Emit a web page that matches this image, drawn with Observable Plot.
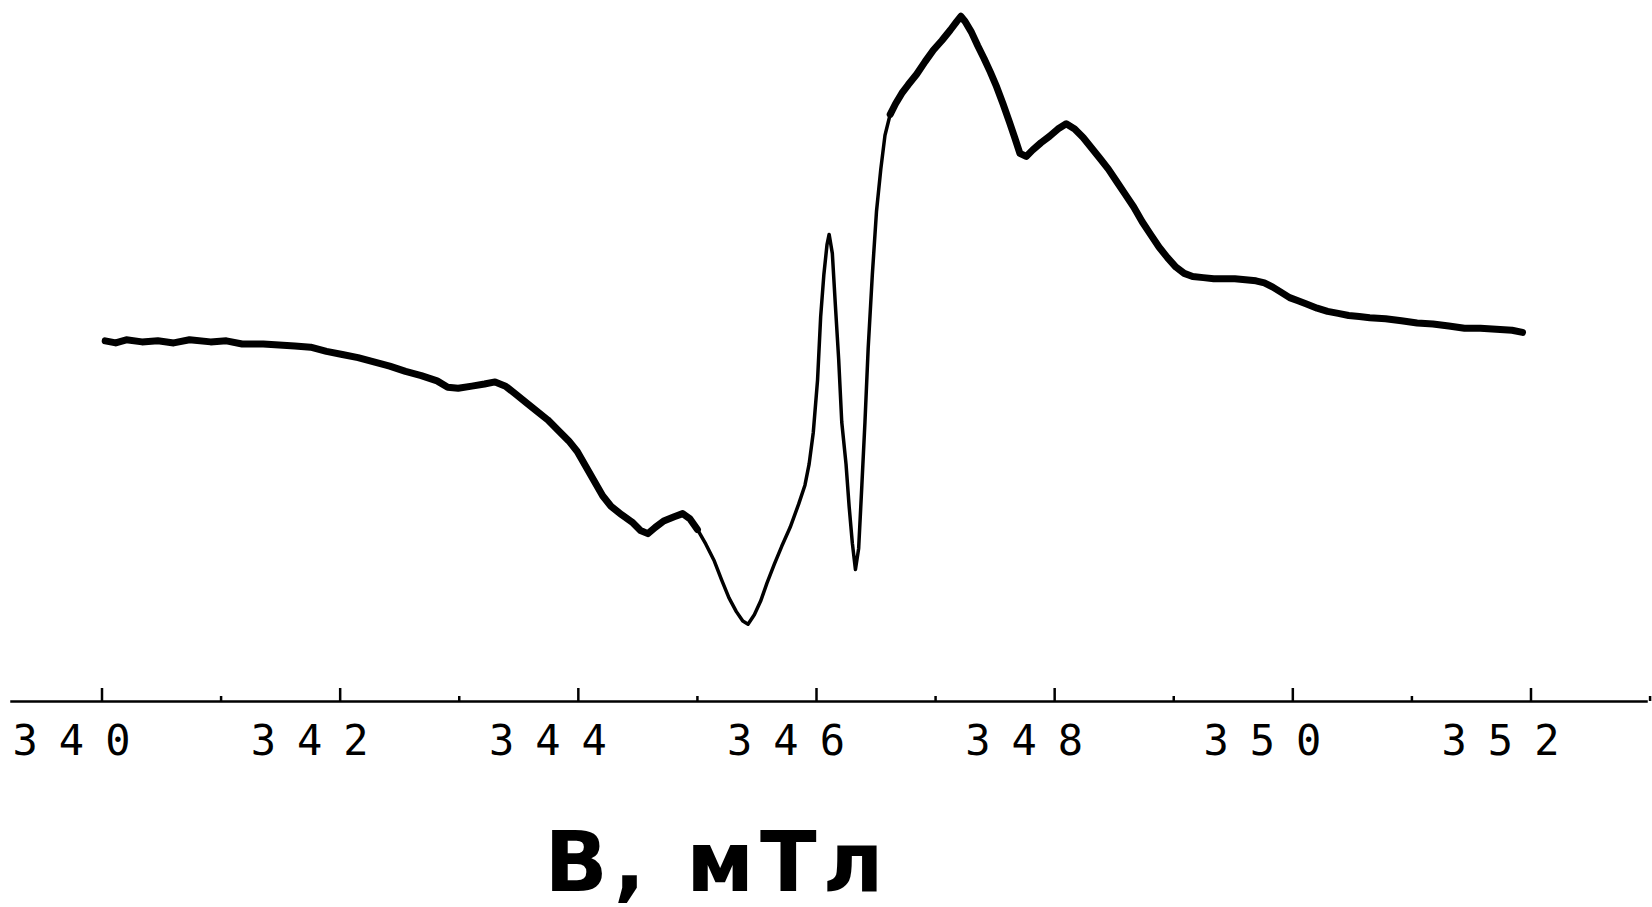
<!DOCTYPE html>
<html>
<head>
<meta charset="utf-8">
<script src="https://cdn.jsdelivr.net/npm/d3@7"></script>
<script src="https://cdn.jsdelivr.net/npm/@observablehq/plot@0.6"></script>
<style>
  html, body { margin: 0; padding: 0; background: #fff; }
  #chart svg { display: block; }
</style>
</head>
<body>
<div id="chart"></div>
<script>
// Magnetic field B, mT
const fieldB = [
  340.027, 340.115, 340.204, 340.336, 340.469, 340.602, 340.735, 340.912, 341.044, 341.177,
  341.354, 341.487, 341.619, 341.752, 341.885, 342.018, 342.150, 342.283, 342.416, 342.549,
  342.681, 342.814, 342.903, 342.991, 343.106, 343.212, 343.301, 343.389, 343.478, 343.566,
  343.655, 343.743, 343.832, 343.920, 343.991, 344.062, 344.133, 344.204, 344.274, 344.363,
  344.451, 344.522, 344.584, 344.646, 344.717, 344.805, 344.876, 344.938, 345.000, 345.071,
  345.142, 345.204, 345.265, 345.327, 345.381, 345.425, 345.478, 345.531, 345.584, 345.646,
  345.708, 345.779, 345.850, 345.903, 345.938, 345.973, 346.009, 346.035, 346.062, 346.088,
  346.106, 346.133, 346.159, 346.186, 346.212, 346.248, 346.274, 346.301, 346.327, 346.354,
  346.381, 346.407, 346.434, 346.469, 346.504, 346.540, 346.575, 346.619, 346.664, 346.717,
  346.770, 346.841, 346.912, 346.982, 347.053, 347.124, 347.177, 347.212, 347.248, 347.301,
  347.354, 347.407, 347.460, 347.513, 347.566, 347.619, 347.664, 347.708, 347.761, 347.814,
  347.885, 347.956, 348.027, 348.097, 348.168, 348.239, 348.310, 348.381, 348.451, 348.522,
  348.593, 348.664, 348.735, 348.805, 348.876, 348.947, 349.018, 349.088, 349.159, 349.248,
  349.336, 349.425, 349.513, 349.602, 349.690, 349.761, 349.832, 349.903, 349.973, 350.044,
  350.115, 350.204, 350.292, 350.381, 350.469, 350.558, 350.646, 350.779, 350.912, 351.044,
  351.177, 351.310, 351.442, 351.575, 351.708, 351.841, 351.929
];
// EPR signal (derivative), arbitrary units
const signal = [
  0, -2, 1, -1, 0, -2, 1, -1, 0, -3,
  -3, -4, -5, -6, -10, -13, -16, -20, -24, -29,
  -33, -38, -44, -45, -43, -41, -39, -43, -51, -59,
  -67, -75, -85, -95, -105, -119, -133, -147, -157, -165,
  -172, -180, -183, -177, -171, -167, -164, -169, -179, -193,
  -209, -227, -244, -257, -266, -269, -260, -247, -230, -212,
  -195, -177, -155, -137, -117, -87, -37, 23, 63, 91,
  101, 83, 33, -17, -77, -117, -157, -192, -217, -197,
  -137, -77, -7, 63, 123, 163, 195, 215, 225, 235,
  243, 253, 265, 276, 285, 295, 303, 308, 303, 293,
  280, 268, 255, 241, 225, 208, 193, 178, 175, 181,
  188, 194, 201, 206, 201, 193, 183, 173, 163, 151,
  139, 127, 113, 101, 89, 79, 70, 64, 61, 60,
  59, 59, 59, 58, 57, 55, 51, 46, 41, 38,
  35, 31, 28, 26, 24, 23, 22, 21, 19, 17,
  16, 14, 12, 12, 11, 10, 8
];
const majorTicks = [340, 342, 344, 346, 348, 350, 352];
const minorTicks = [341, 343, 345, 347, 349, 351, 353];
const xTitle = "В, мТл";

const data = fieldB.map((b, i) => ({b, s: signal[i]}));
const noisyLeft = data.filter(d => d.b <= 345.0);
const noisyRight = data.filter(d => d.b >= 346.6);

const chart = Plot.plot({
  width: 1652,
  height: 907,
  marginLeft: 11,
  marginRight: 6,
  marginTop: 0,
  marginBottom: 206,
  style: {background: "#fff", color: "#000"},
  x: {domain: [339.24, 352.97], label: null},
  y: {domain: [-342.3, 323], axis: null},
  marks: [
    Plot.frame({anchor: "bottom", stroke: "#000", strokeWidth: 2.5}),
    Plot.axisX(minorTicks, {tickSize: -5, strokeWidth: 2.5, tickFormat: () => "", label: null}),
    Plot.axisX(majorTicks, {tickSize: -13, strokeWidth: 2.5, tickFormat: () => "", label: null}),
    Plot.axisX(majorTicks, {
      tickSize: 0, tickPadding: 24, label: null,
      tickFormat: d => String(d),
      fontFamily: "DejaVu Sans Mono", fontSize: 42, dx: -20
    }),
    Plot.line(data, {x: "b", y: "s", stroke: "#000", strokeWidth: 3.5}),
    Plot.line(noisyLeft, {x: "b", y: "s", stroke: "#000", strokeWidth: 7, strokeLinecap: "round"}),
    Plot.line(noisyRight, {x: "b", y: "s", stroke: "#000", strokeWidth: 7, strokeLinecap: "round"}),
    Plot.text([xTitle], {
      frameAnchor: "bottom", text: d => d, lineAnchor: "bottom",
      dx: -112, dy: 189, fontFamily: "DejaVu Sans", fontWeight: "bold", fontSize: 83,
      fill: "#000"
    })
  ]
});
d3.select(chart).selectAll('g[aria-label="x-axis tick label"] text').style("letter-spacing", "21px");
d3.select(chart).selectAll('g[aria-label="text"] text').style("letter-spacing", "6px");
document.getElementById("chart").appendChild(chart);
</script>
</body>
</html>
